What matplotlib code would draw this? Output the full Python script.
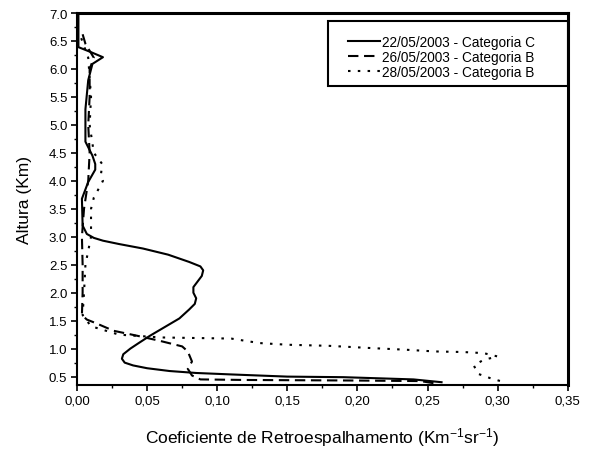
import numpy as np
import matplotlib
matplotlib.use('Agg')
import matplotlib.pyplot as plt
from matplotlib.ticker import MultipleLocator, FuncFormatter
from matplotlib.patches import Rectangle

plt.rcParams['font.family'] = ['Liberation Sans', 'DejaVu Sans']
plt.rcParams['mathtext.fontset'] = 'custom'
plt.rcParams['mathtext.rm'] = 'Liberation Sans'
plt.rcParams['mathtext.it'] = 'Liberation Sans'

# perfil 22/05/2003 - categoria C
alt_c = [6.98, 6.60, 6.39, 6.30, 6.21, 6.09, 5.80, 5.28, 4.70, 4.45, 4.30, 4.20,
         3.98, 3.68, 3.20, 3.05, 2.98, 2.93, 2.87, 2.79, 2.68, 2.55, 2.47, 2.40,
         2.30, 2.20, 2.10, 2.00, 1.90, 1.80, 1.70, 1.54, 1.23, 1.10, 1.00, 0.90,
         0.82, 0.75, 0.70, 0.65, 0.60, 0.565, 0.54, 0.50, 0.49, 0.45, 0.40]
beta_c = [0.001, 0.001, 0.001, 0.010, 0.0185, 0.011, 0.008, 0.006, 0.006, 0.011, 0.013, 0.013,
          0.008, 0.0035, 0.004, 0.007, 0.012, 0.0185, 0.030, 0.047, 0.065, 0.080, 0.088, 0.090,
          0.089, 0.086, 0.083, 0.083, 0.085, 0.084, 0.080, 0.073, 0.052, 0.044, 0.038, 0.033,
          0.032, 0.034, 0.040, 0.050, 0.066, 0.085, 0.109, 0.150, 0.190, 0.240, 0.260]

# perfil 26/05/2003 - categoria B
alt_b1 = [6.62, 6.45, 6.20, 6.00, 5.50, 5.00, 4.50, 4.00, 3.50, 3.00, 2.50, 2.00,
          1.60, 1.52, 1.45, 1.32, 1.23, 1.14, 1.04, 0.95, 0.77, 0.64, 0.52, 0.45, 0.44,
          0.43, 0.42, 0.38]
beta_b1 = [0.004, 0.006, 0.012, 0.009, 0.009, 0.008, 0.009, 0.008, 0.005, 0.0035, 0.004, 0.004,
           0.0035, 0.007, 0.014, 0.026, 0.043, 0.059, 0.075, 0.079, 0.082, 0.079, 0.082, 0.088, 0.120,
           0.200, 0.245, 0.255]

# perfil 28/05/2003 - categoria B
alt_b2 = [6.55, 6.20, 5.50, 5.00, 4.50, 4.30, 4.10, 4.00, 3.70, 3.50, 3.00, 2.50,
          2.00, 1.60, 1.40, 1.25, 1.20, 1.18, 1.10, 1.07, 1.05, 1.01, 0.98, 0.95,
          0.94, 0.92, 0.86, 0.80, 0.70, 0.55, 0.47, 0.42]
beta_b2 = [0.003, 0.008, 0.010, 0.009, 0.012, 0.018, 0.017, 0.0185, 0.012, 0.010, 0.010, 0.006,
           0.005, 0.004, 0.010, 0.030, 0.060, 0.110, 0.130, 0.150, 0.180, 0.210, 0.235, 0.255,
           0.275, 0.290, 0.300, 0.290, 0.283, 0.286, 0.295, 0.302]

labels = ['22/05/2003 - Categoria C', '26/05/2003 - Categoria B', '28/05/2003 - Categoria B']

fig = plt.figure(figsize=(5.97, 4.52), dpi=100)
ax = fig.add_axes([0.129, 0.146, 0.822, 0.823])

ax.plot(beta_c, alt_c, color='black', lw=1.5, solid_joinstyle='round', label=labels[0])
ax.plot(beta_b1, alt_b1, color='black', lw=1.5, dashes=(5, 2.7), label=labels[1])
ax.plot(beta_b2, alt_b2, color='black', lw=1.5, dashes=(1.2, 3.5), label=labels[2])

ax.set_xlim(0, 0.35)
ax.set_ylim(0.35, 7.0)

ax.xaxis.set_major_locator(MultipleLocator(0.05))
ax.xaxis.set_minor_locator(MultipleLocator(0.025))
ax.yaxis.set_major_locator(MultipleLocator(0.5))
ax.yaxis.set_minor_locator(MultipleLocator(0.25))
ax.xaxis.set_major_formatter(FuncFormatter(lambda v, p: ('%.2f' % v).replace('.', ',')))
ax.yaxis.set_major_formatter(FuncFormatter(lambda v, p: '%.1f' % v))
ax.tick_params(which='major', direction='out', length=4, width=1.2, labelsize=9.5, pad=3)
ax.tick_params(which='minor', direction='out', length=2.5, width=1.0)

for s in ['left', 'bottom']:
    ax.spines[s].set_linewidth(1.5)
for s in ['top', 'right']:
    ax.spines[s].set_linewidth(2.2)

ax.set_xlabel('Coeficiente de Retroespalhamento (Km$^{-1}$sr$^{-1}$)', fontsize=12.5, labelpad=13)
ax.set_ylabel('Altura (Km)', fontsize=12.5, labelpad=12)

leg = ax.legend(loc='upper right', bbox_to_anchor=(0.945, 0.955), frameon=False,
                fontsize=9.8, handlelength=2.3, handletextpad=0.2, labelspacing=0.05,
                borderaxespad=0)
ax.add_patch(Rectangle((0.512, 0.804), 0.488, 0.174, transform=ax.transAxes,
                       fill=False, edgecolor='black', lw=1.5, zorder=5))

plt.savefig('out.png', dpi=100)
